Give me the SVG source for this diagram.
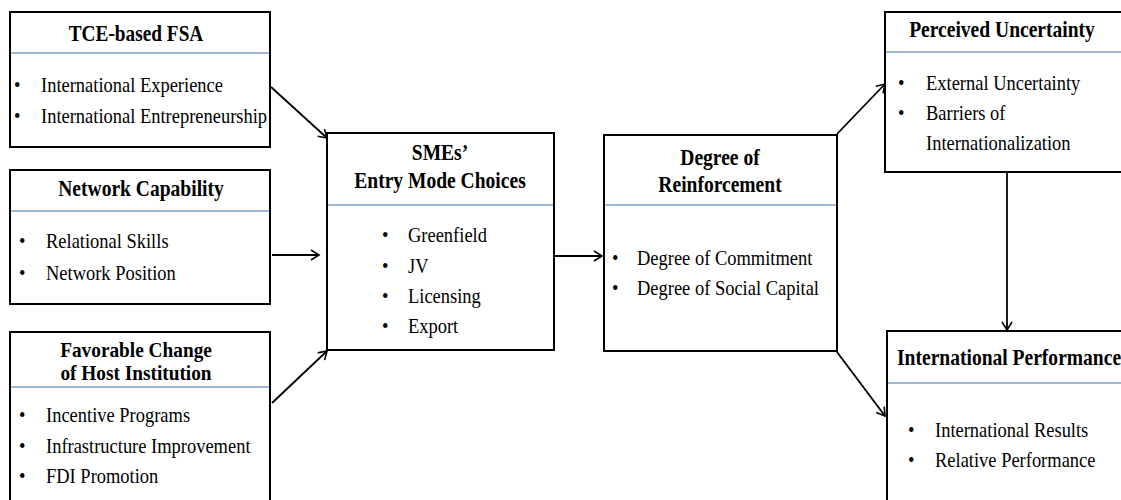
<svg xmlns="http://www.w3.org/2000/svg" width="1121" height="500" viewBox="0 0 1121 500">
<style>
.box{fill:#fff;stroke:#000;stroke-width:2}
.div{stroke:#7f9fc4;stroke-width:1.3}
.t{font-family:"Liberation Serif","Times New Roman",serif;font-size:23px;font-weight:bold;fill:#000;text-anchor:middle}
.t2{font-family:"Liberation Serif","Times New Roman",serif;font-size:21px;font-weight:bold;fill:#000;text-anchor:middle}
.i{font-family:"Liberation Serif","Times New Roman",serif;font-size:22px;fill:#000}
.c{stroke:#000;stroke-width:1.8;fill:none}
</style>
<defs>
<marker id="ah" markerWidth="12" markerHeight="12" refX="10" refY="6" orient="auto" markerUnits="userSpaceOnUse">
<path d="M2,1 L10,6 L2,11" fill="none" stroke="#000" stroke-width="1.6"/>
</marker>
</defs>
<rect width="1121" height="500" fill="#fff"/>

<g id="tce">
<rect class="box" x="10" y="12" width="260" height="135"/>
<line class="div" x1="11" y1="53" x2="269" y2="53"/>
<text class="t" transform="translate(136,41) scale(0.84,1)">TCE-based FSA</text>
<text class="i" transform="translate(14,92) scale(0.84,1)">•</text>
<text class="i" transform="translate(41,92) scale(0.84,1)">International Experience</text>
<text class="i" transform="translate(14,123) scale(0.84,1)">•</text>
<text class="i" transform="translate(41,123) scale(0.84,1)">International Entrepreneurship</text>
</g>

<g id="network">
<rect class="box" x="10" y="170" width="260" height="134"/>
<line class="div" x1="11" y1="211" x2="269" y2="211"/>
<text class="t" transform="translate(141,196) scale(0.85,1)">Network Capability</text>
<text class="i" transform="translate(19,248) scale(0.84,1)">•</text>
<text class="i" transform="translate(46,248) scale(0.84,1)">Relational Skills</text>
<text class="i" transform="translate(19,280) scale(0.84,1)">•</text>
<text class="i" transform="translate(46,280) scale(0.84,1)">Network Position</text>
</g>

<g id="favorable">
<rect class="box" x="10" y="332" width="260" height="180"/>
<line class="div" x1="11" y1="387" x2="269" y2="387"/>
<text class="t2" transform="translate(136,357) scale(0.92,1)">Favorable Change</text>
<text class="t2" transform="translate(136,380) scale(0.92,1)">of Host Institution</text>
<text class="i" transform="translate(19,422) scale(0.84,1)">•</text>
<text class="i" transform="translate(46,422) scale(0.84,1)">Incentive Programs</text>
<text class="i" transform="translate(19,453) scale(0.84,1)">•</text>
<text class="i" transform="translate(46,453) scale(0.84,1)">Infrastructure Improvement</text>
<text class="i" transform="translate(19,483) scale(0.84,1)">•</text>
<text class="i" transform="translate(46,483) scale(0.84,1)">FDI Promotion</text>
</g>

<g id="smes">
<rect class="box" x="327" y="133" width="227" height="217"/>
<line class="div" x1="328" y1="205" x2="553" y2="205"/>
<text class="t" transform="translate(440,160) scale(0.85,1)">SMEs’</text>
<text class="t" transform="translate(440,188) scale(0.85,1)">Entry Mode Choices</text>
<text class="i" transform="translate(382,242) scale(0.84,1)">•</text>
<text class="i" transform="translate(408,242) scale(0.84,1)">Greenfield</text>
<text class="i" transform="translate(382,273) scale(0.84,1)">•</text>
<text class="i" transform="translate(408,273) scale(0.84,1)">JV</text>
<text class="i" transform="translate(382,303) scale(0.84,1)">•</text>
<text class="i" transform="translate(408,303) scale(0.84,1)">Licensing</text>
<text class="i" transform="translate(382,333) scale(0.84,1)">•</text>
<text class="i" transform="translate(408,333) scale(0.84,1)">Export</text>
</g>

<g id="degree">
<rect class="box" x="604" y="135" width="233" height="216"/>
<line class="div" x1="605" y1="205" x2="836" y2="205"/>
<text class="t" transform="translate(720,165) scale(0.85,1)">Degree of</text>
<text class="t" transform="translate(720,192) scale(0.85,1)">Reinforcement</text>
<text class="i" transform="translate(612,265) scale(0.84,1)">•</text>
<text class="i" transform="translate(637,265) scale(0.84,1)">Degree of Commitment</text>
<text class="i" transform="translate(612,295) scale(0.84,1)">•</text>
<text class="i" transform="translate(637,295) scale(0.84,1)">Degree of Social Capital</text>
</g>

<g id="perceived">
<rect class="box" x="885" y="12" width="250" height="160"/>
<line class="div" x1="886" y1="52" x2="1121" y2="52"/>
<text class="t" transform="translate(1002,37) scale(0.85,1)">Perceived Uncertainty</text>
<text class="i" transform="translate(898,90) scale(0.84,1)">•</text>
<text class="i" transform="translate(926,90) scale(0.84,1)">External Uncertainty</text>
<text class="i" transform="translate(898,120) scale(0.84,1)">•</text>
<text class="i" transform="translate(926,120) scale(0.84,1)">Barriers of</text>
<text class="i" transform="translate(926,150) scale(0.84,1)">Internationalization</text>
</g>

<g id="performance">
<rect class="box" x="887" y="331" width="250" height="180"/>
<line class="div" x1="888" y1="383" x2="1121" y2="383"/>
<text class="t" style="text-anchor:start" transform="translate(897,365) scale(0.85,1)">International Performance</text>
<text class="i" transform="translate(908,437) scale(0.84,1)">•</text>
<text class="i" transform="translate(935,437) scale(0.84,1)">International Results</text>
<text class="i" transform="translate(908,467) scale(0.84,1)">•</text>
<text class="i" transform="translate(935,467) scale(0.84,1)">Relative Performance</text>
</g>

<g id="connectors">
<line class="c" x1="271" y1="87" x2="327" y2="138" marker-end="url(#ah)"/>
<line class="c" x1="272" y1="255" x2="319" y2="255" marker-end="url(#ah)"/>
<line class="c" x1="272" y1="403" x2="327" y2="351" marker-end="url(#ah)"/>
<line class="c" x1="555" y1="256" x2="602" y2="256" marker-end="url(#ah)"/>
<line class="c" x1="837" y1="134" x2="885" y2="84" marker-end="url(#ah)"/>
<line class="c" x1="837" y1="352" x2="885" y2="416" marker-end="url(#ah)"/>
<line class="c" x1="1007" y1="173" x2="1007" y2="330" marker-end="url(#ah)"/>
</g>
</svg>
